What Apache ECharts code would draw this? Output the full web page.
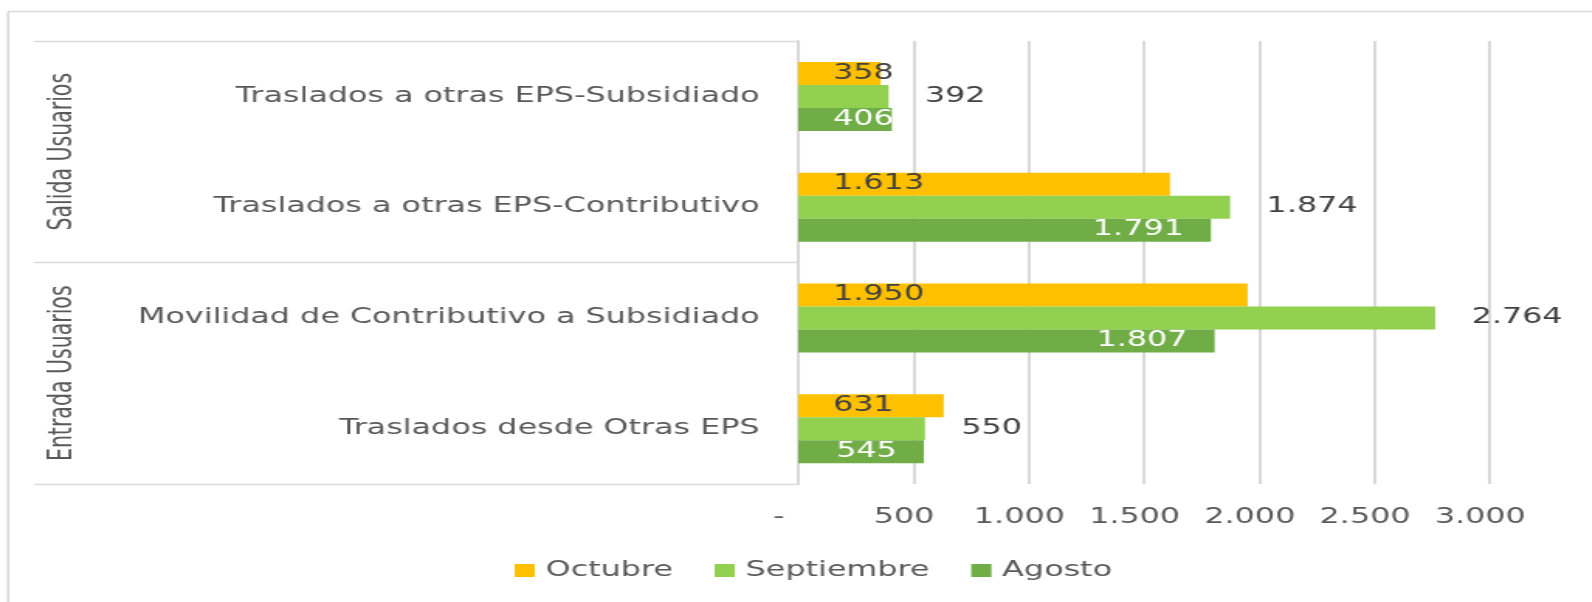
<!DOCTYPE html>
<html>
<head>
<meta charset="utf-8">
<script src="https://cdn.jsdelivr.net/npm/echarts@6/dist/echarts.min.js"></script>
<style>
  html, body { margin: 0; padding: 0; background: #fff; overflow: hidden; }
  /* the original picture is stretched sideways, so the chart is drawn
     narrower and widened with the same factor */
  #chart { width: 1027px; height: 602px; transform: scaleX(1.55); transform-origin: 0 0; }
</style>
</head>
<body>
<div id="chart"></div>
<script>
// categories, bottom to top (ECharts category y axis starts at the bottom)
const categories = [
  'Traslados desde Otras EPS',
  'Movilidad de Contributivo a Subsidiado',
  'Traslados a otras EPS-Contributivo',
  'Traslados a otras EPS-Subsidiado'
];
const groups = ['Entrada Usuarios', 'Salida Usuarios'];

const octubre = [631, 1950, 1613, 358];
const septiembre = [550, 2764, 1874, 392];
const agosto = [545, 1807, 1791, 406];

const xTicks = ['-', '500', '1.000', '1.500', '2.000', '2.500', '3.000'];

const FONT = 'DejaVu Sans';
const FS = 20.5;
const GRAY = '#595959';
const LINE = '#d9d9d9';

function fmt(v) {
  return String(v).replace(/\B(?=(\d{3})+(?!\d))/g, '.');
}

const chart = echarts.init(document.getElementById('chart'));

const option = {
  animation: false,
  textStyle: { fontFamily: FONT },
  grid: { left: 515, right: 66, top: 41, bottom: 118, containLabel: false },
  legend: {
    data: ['Octubre', 'Septiembre', 'Agosto'],
    top: 555,
    left: 327,
    icon: 'rect',
    itemWidth: 13,
    itemHeight: 13,
    itemGap: 27,
    textStyle: { fontFamily: FONT, fontSize: FS, color: GRAY, padding: [0, 0, 0, 2] }
  },
  xAxis: {
    type: 'value',
    min: 0,
    max: 3000,
    interval: 500,
    axisLine: { show: false },
    axisTick: { show: false },
    splitLine: { lineStyle: { color: LINE, width: 2 } },
    axisLabel: {
      fontFamily: FONT,
      fontSize: FS,
      color: GRAY,
      margin: 23,
      padding: [0, 12, 0, 0],
      formatter: (v) => {
        const i = Math.round(v / 500);
        return i === 0 ? '{z|' + xTicks[0] + '}' : xTicks[i];
      },
      rich: { z: { fontFamily: FONT, fontSize: FS, color: GRAY, padding: [0, 13, 0, 0] } }
    }
  },
  yAxis: [
    {
      type: 'category',
      data: categories,
      axisLine: { show: true, lineStyle: { color: LINE, width: 2 } },
      axisTick: { show: false },
      axisLabel: { fontFamily: FONT, fontSize: FS, color: GRAY, margin: 25 }
    },
    {
      type: 'category',
      data: groups,
      position: 'left',
      offset: 493,
      axisLine: { show: false },
      axisTick: { show: true, inside: true, interval: 0, length: 493, lineStyle: { color: LINE, width: 1.4 } },
      axisLabel: { inside: true, interval: 0, rotate: 90, margin: 8, fontFamily: FONT, fontSize: FS, color: GRAY }
    }
  ],
  graphic: [
    { type: 'line', shape: { x1: 5.2, y1: 11.5, x2: 5.2, y2: 620 }, style: { stroke: LINE, lineWidth: 1.6 } },
    { type: 'line', shape: { x1: 5.2, y1: 11.5, x2: 1100, y2: 11.5 }, style: { stroke: LINE, lineWidth: 1.4 } }
  ],
  series: [
    {
      name: 'Octubre',
      type: 'bar',
      data: octubre,
      barWidth: 23,
      barGap: '0%',
      itemStyle: { color: '#FFC000' },
      label: {
        show: true, position: 'insideLeft', distance: 22.5,
        fontFamily: FONT, fontSize: FS, color: '#404040',
        formatter: (p) => fmt(p.value)
      }
    },
    {
      name: 'Septiembre',
      type: 'bar',
      data: septiembre,
      barWidth: 23,
      barGap: '0%',
      itemStyle: { color: '#92D050' },
      label: {
        show: true, position: 'right', distance: 23.5,
        fontFamily: FONT, fontSize: FS, color: '#404040',
        formatter: (p) => fmt(p.value)
      }
    },
    {
      name: 'Agosto',
      type: 'bar',
      // short bars keep their label at the base, like the original
      data: agosto.map(v => v < 500 ? { value: v, label: { position: 'insideLeft', distance: 22.5 } } : v),
      barWidth: 23,
      barGap: '0%',
      itemStyle: { color: '#70AD47' },
      label: {
        show: true, position: 'insideRight', distance: 17.5,
        fontFamily: FONT, fontSize: FS, color: '#ffffff',
        formatter: (p) => fmt(p.value)
      }
    }
  ]
};

chart.setOption(option);
</script>
</body>
</html>
